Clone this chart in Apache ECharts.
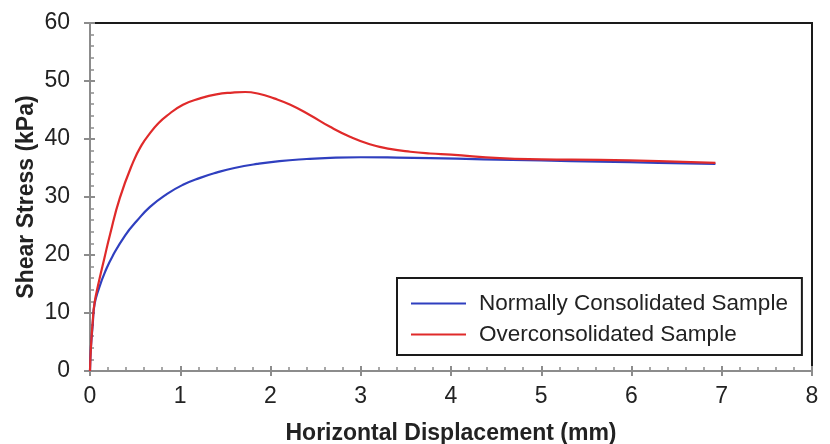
<!DOCTYPE html>
<html>
<head>
<meta charset="utf-8">
<script src="https://cdn.jsdelivr.net/npm/echarts@6/dist/echarts.min.js"></script>
<style>
  html, body { margin: 0; padding: 0; background: #fff; }
  #chart { width: 830px; height: 444px; }
</style>
</head>
<body>
<div id="chart"></div>
<script>
// Direct shear test: shear stress vs horizontal displacement
const seriesNames = ['Normally Consolidated Sample', 'Overconsolidated Sample'];

// [displacement (mm), shear stress (kPa)]
const normallyConsolidated = [
  [0, 0], [0.01, 4], [0.03, 8], [0.05, 11.5], [0.1, 14.3], [0.17, 17.2],
  [0.25, 19.8], [0.39, 23.4], [0.52, 25.9], [0.665, 28.3], [0.85, 30.5],
  [1.03, 32.1], [1.22, 33.3], [1.4, 34.2], [1.6, 35.0], [1.85, 35.7],
  [2.1, 36.2], [2.4, 36.55], [2.66, 36.75], [3.0, 36.85], [3.4, 36.8],
  [3.77, 36.7], [4.36, 36.5], [5.0, 36.3], [5.65, 36.1], [6.3, 35.9],
  [6.93, 35.7]
];

const overconsolidated = [
  [0, 0], [0.01, 4], [0.03, 8.5], [0.05, 11.7], [0.1, 15.5], [0.16, 19.5],
  [0.22, 23.4], [0.33, 29.8], [0.48, 36.1], [0.57, 38.9], [0.665, 41.0],
  [0.75, 42.6], [0.85, 44.0], [1.03, 45.9], [1.22, 47.0], [1.4, 47.7],
  [1.58, 48.0], [1.72, 48.1], [1.87, 47.8], [2.04, 47.0], [2.22, 45.9],
  [2.44, 44.1], [2.66, 42.1], [2.88, 40.4], [3.1, 39.1], [3.32, 38.3],
  [3.55, 37.8], [3.77, 37.5], [4.0, 37.3], [4.54, 36.7], [5.0, 36.5],
  [5.65, 36.4], [6.3, 36.2], [6.93, 35.9]
];

const xTicks = { min: 0, max: 8, step: 1 };
const yTicks = { min: 0, max: 60, step: 10 };

const FONT = '"Liberation Sans", Arial, sans-serif';
const axisGray = '#8c8c8c';

const chart = echarts.init(document.getElementById('chart'), null, { renderer: 'canvas' });

// Primary axes draw labels and outward major ticks; overlay axes draw inward ticks + minor ticks
const baseX = {
  type: 'value', min: xTicks.min, max: xTicks.max, interval: xTicks.step,
  splitLine: { show: false }
};
const baseY = {
  type: 'value', min: yTicks.min, max: yTicks.max, interval: yTicks.step,
  splitLine: { show: false }
};

const lineSeries = (name, data, color) => ({
  name, type: 'line', data,
  smooth: 0.5,
  showSymbol: false, symbol: 'none',
  lineStyle: { color, width: 2.2 }, itemStyle: { color }
});

chart.setOption({
  animation: false,
  backgroundColor: '#fff',
  grid: {
    left: 90, right: 18, top: 23, bottom: 73,
    outerBoundsMode: 'none',
    containLabel: false,
    show: true, borderColor: '#1a1a1a', borderWidth: 2, backgroundColor: 'transparent'
  },
  legend: {
    orient: 'vertical',
    left: 397, top: 278,
    padding: [14, 14, 9, 14],
    borderColor: '#1a1a1a', borderWidth: 2,
    backgroundColor: '#fff',
    icon: 'rect',
    itemWidth: 55, itemHeight: 2,
    itemGap: 8,
    textStyle: { fontFamily: FONT, fontSize: 22.5, color: '#222', padding: [0, 0, 0, 8] },
    data: seriesNames
  },
  xAxis: [
    Object.assign({}, baseX, {
      name: 'Horizontal Displacement (mm)',
      nameLocation: 'middle', nameGap: 51,
      nameMoveOverlap: false,
      nameTextStyle: { fontFamily: FONT, fontSize: 23, fontWeight: 'bold', color: '#222' },
      axisLine: { lineStyle: { color: axisGray, width: 2 } },
      axisTick: { show: true, inside: false, length: 5, lineStyle: { color: axisGray, width: 2 } },
      axisLabel: { fontFamily: FONT, fontSize: 23, color: '#222', margin: 14 }
    }),
    Object.assign({}, baseX, {
      position: 'bottom',
      axisLine: { show: false },
      axisLabel: { show: false },
      axisTick: { show: true, inside: true, length: 5, lineStyle: { color: axisGray, width: 2 } },
      minorTick: { show: true, splitNumber: 5, length: 4, lineStyle: { color: axisGray, width: 1.5 } }
    })
  ],
  yAxis: [
    Object.assign({}, baseY, {
      name: 'Shear Stress (kPa)',
      nameLocation: 'middle', nameGap: 52,
      nameMoveOverlap: false,
      nameTextStyle: { fontFamily: FONT, fontSize: 23, fontWeight: 'bold', color: '#222' },
      axisLine: { lineStyle: { color: axisGray, width: 2 } },
      axisTick: { show: true, inside: false, length: 6, lineStyle: { color: axisGray, width: 2 } },
      axisLabel: { fontFamily: FONT, fontSize: 23, color: '#222', margin: 20 }
    }),
    Object.assign({}, baseY, {
      position: 'left',
      axisLine: { show: false },
      axisLabel: { show: false },
      axisTick: { show: true, inside: true, length: 5, lineStyle: { color: axisGray, width: 2 } },
      minorTick: { show: true, splitNumber: 5, length: 4, lineStyle: { color: axisGray, width: 1.5 } }
    })
  ],
  series: [
    lineSeries(seriesNames[0], normallyConsolidated, '#2f3fbf'),
    lineSeries(seriesNames[1], overconsolidated, '#e02a2a')
  ]
});
</script>
</body>
</html>
